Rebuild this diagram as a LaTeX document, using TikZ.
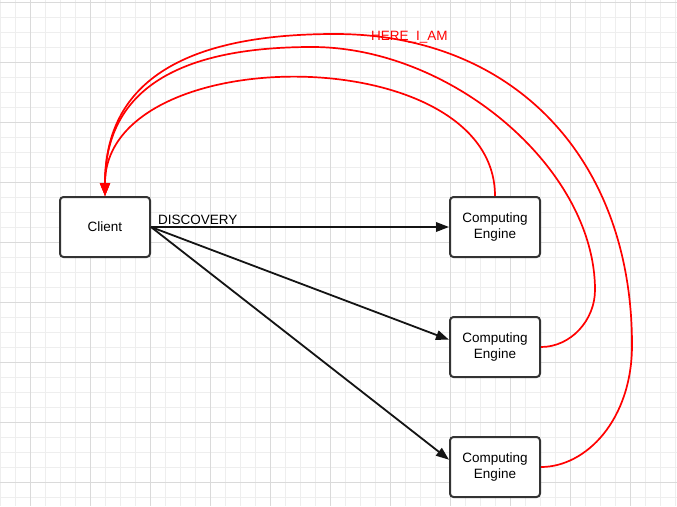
\documentclass[tikz,border=0pt]{standalone}
\usepackage{fontspec}
\setmainfont{Liberation Sans}
\usetikzlibrary{arrows.meta}
\definecolor{gridminor}{HTML}{EEEEEE}
\definecolor{gridmajor}{HTML}{DADADA}
\definecolor{boxline}{HTML}{333333}
\definecolor{msgred}{HTML}{FF0000}
\tikzset{
  minorline/.style={gridminor, line width=0.8pt},
  majorline/.style={gridmajor, line width=0.8pt},
  procbox/.style={draw=boxline, line width=2pt, rounded corners=3.5pt, fill=white,
    minimum width=90pt, minimum height=60pt, align=center, inner sep=2pt,
    font=\fontsize{13.5}{15.5}\selectfont},
  discovery/.style={draw=black!92, line width=1.8pt,
    -{Triangle[length=13pt,width=9.5pt]}},
  reply/.style={draw=msgred, line width=1.7pt,
    -{Triangle[length=13pt,width=10pt]}},
  msglabel/.style={inner sep=0pt, font=\fontsize{13.5}{15.5}\selectfont}
}
\begin{document}
\begin{tikzpicture}[x=1pt,y=-1pt]
  % canvas and grid
  \fill[white] (0,0) rectangle (677,506);
  \useasboundingbox (0,0) rectangle (677,506);
  \foreach \x in {0,15,...,675} \draw[minorline] (\x,0) -- (\x,506);
  \foreach \y in {2.3,17.3,...,500} \draw[minorline] (0,\y) -- (677,\y);
  \foreach \x in {30,90,...,630} \draw[majorline] (\x,0) -- (\x,506);
  \foreach \y in {2.3,62.3,...,500} \draw[majorline] (0,\y) -- (677,\y);

  % nodes
  \node[procbox] (client) at (105,227) {Client};
  \node[procbox] (ce1) at (495,227) {Computing\\Engine};
  \node[procbox] (ce2) at (495,347) {Computing\\Engine};
  \node[procbox] (ce3) at (495,467) {Computing\\Engine};

  % discovery requests
  \draw[discovery] (client.east) -- (ce1.west);
  \draw[discovery] (client.east) -- (ce2.171);
  \draw[discovery] (client.east) -- (ce3.171);
  \node[msglabel, anchor=base west] (disc) at (158,224) {DISCOVERY};

  % replies back to the client
  \coordinate (r2) at (595,290);
  \coordinate (t2) at (312,47);
  \coordinate (r3) at (632,345);
  \coordinate (t3) at (335,34);
  \draw[reply] (ce1.north) .. controls +(0,-157) and +(0,-157) .. (client.north);
  \draw[reply] (ce2.east) .. controls +(30,0) and +(0,30) .. (r2)
    .. controls +(0,-121) and +(140,0) .. (t2)
    .. controls +(-140,0) and +(0,-102) .. (client.north);
  \draw[reply] (ce3.east) .. controls +(45,0) and +(0,75) .. (r3)
    .. controls +(0,-187) and +(178,0) .. (t3)
    .. controls +(-156,0) and +(0,-111) .. (client.north);
  \node[msglabel, anchor=base west, text=msgred] (here) at (371,40) {HERE\_I\_AM};
\end{tikzpicture}
\end{document}
